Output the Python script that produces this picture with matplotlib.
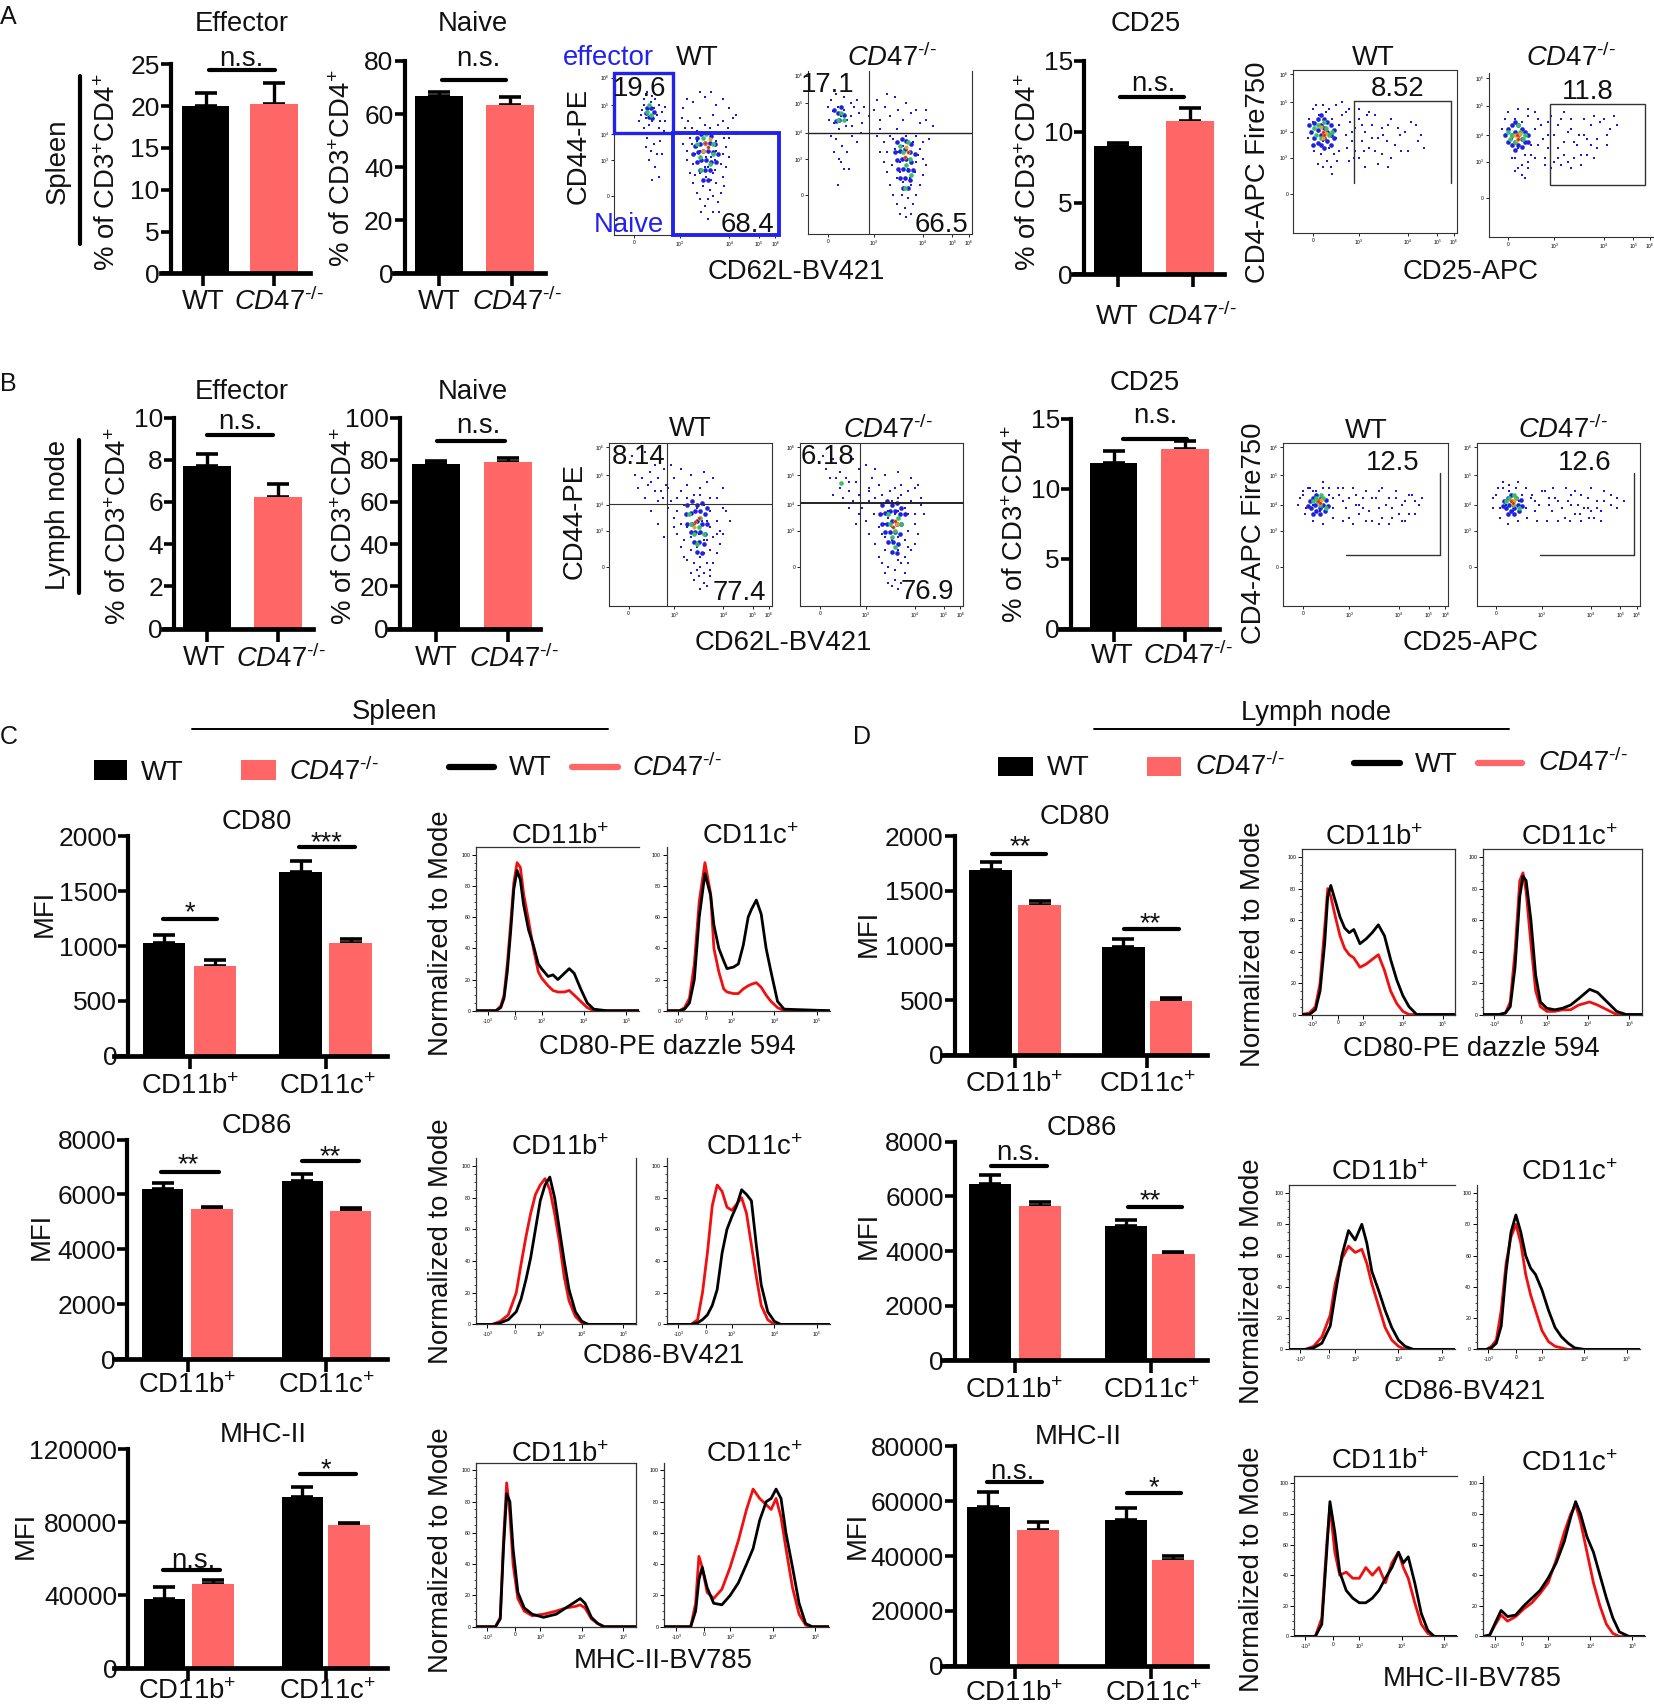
import matplotlib
matplotlib.use('Agg')
import matplotlib.pyplot as plt
from matplotlib.lines import Line2D
from matplotlib.patches import Rectangle

plt.rcParams['font.family'] = ['Liberation Sans', 'DejaVu Sans']
plt.rcParams['mathtext.fontset'] = 'custom'
plt.rcParams['mathtext.rm'] = 'Liberation Sans'
plt.rcParams['mathtext.it'] = 'Liberation Sans:italic'
plt.rcParams['mathtext.bf'] = 'Liberation Sans:bold'

KO = r'$\mathit{CD47}^{\text{-/-}}$'
PCT = r'% of CD3$^{+}$CD4$^{+}$'
BP = r'CD11b$^{+}$'
CP = r'CD11c$^{+}$'
GROUPS2 = ['WT', KO]
GROUPS4 = [BP, CP]

# ---- bar values: (WT, KO) and their upper error ----
A_eff_vals = [20.0, 20.3]; A_eff_err = [1.5, 2.4]
A_nai_vals = [66.8, 63.5]; A_nai_err = [1.4, 3.0]
A_cd25_vals = [9.0, 10.8]; A_cd25_err = [0.25, 0.85]
B_eff_vals = [7.7, 6.25]; B_eff_err = [0.55, 0.6]
B_nai_vals = [78.0, 79.0]; B_nai_err = [1.5, 1.6]
B_cd25_vals = [11.8, 12.8]; B_cd25_err = [0.9, 0.6]
C_cd80_vals = [1030, 820, 1670, 1030]; C_cd80_err = [70, 50, 100, 30]
C_cd86_vals = [6200, 5480, 6500, 5400]; C_cd86_err = [200, 80, 250, 120]
C_mhc_vals = [38000, 46000, 94000, 78500]; C_mhc_err = [6500, 2500, 5500, 1000]
D_cd80_vals = [1690, 1370, 990, 490]; D_cd80_err = [70, 40, 70, 30]
D_cd86_vals = [6450, 5650, 4900, 3900]; D_cd86_err = [350, 150, 250, 80]
D_mhc_vals = [58000, 49500, 53000, 38500]; D_mhc_err = [5500, 3000, 4500, 1500]

# ---- histogram curves: x in percent of panel width, y normalized to mode ----
H1x = [0,12,15,17,19,21,23,25,27,29,32,35,38,40,44,47,50,54,57,60,64,68,72,80,100]
H1k = [0,0,2,8,25,50,78,90,84,68,52,42,30,27,22,23,20,24,27,24,14,5,1,0,0]
H1r = [0,0,3,10,30,55,82,95,92,75,58,40,25,21,16,13,12,12,13,10,6,2,0,0,0]
H2x = [0,8,11,14,17,20,23.5,27,29,32,35,37,41,44,47,50,52,55,58,61,64,68,72,100]
H2k = [0,0,1,5,20,60,88,74,55,40,32,27,28,30,42,60,65,71,62,40,25,6,1,0]
H2r = [0,0,2,8,30,70,95,75,40,25,14,12,11,11,14,16,17,18,15,10,6,2,0,0]
H3x = [0,10,15,20,25,28,31,34,37,40,43,46,49,52,55,58,62,66,70,100]
H3k = [0,0,1,3,8,16,28,42,60,78,88,93,80,60,40,22,8,2,0,0]
H3r = [0,0,2,6,20,38,55,70,82,88,92,85,70,52,30,15,5,1,0,0]
H4x = [0,15,19,22,25,28,31,34,37,40,43,46,49,52,55,58,62,66,70,100]
H4k = [0,0,1,3,6,12,22,45,60,68,75,85,82,78,50,25,8,2,0,0]
H4r = [0,0,3,20,45,75,88,84,74,72,76,80,70,50,30,12,3,0,0,0]
H5x = [0,12,15,17,19,21,23,26,30,35,42,50,56,62,65,68,72,76,80,100]
H5k = [0,0,5,50,85,80,50,22,12,8,6,8,12,16,18,15,6,2,0,0]
H5r = [0,0,6,55,92,72,40,18,10,7,8,10,12,13,14,12,5,2,0,0]
H6x = [0,16,19,21,23,26,30,35,40,45,50,54,58,62,65,68,71,74,78,82,86,90,100]
H6k = [0,0,10,30,38,25,15,14,20,28,40,50,68,80,82,88,82,60,38,15,2,0,0]
H6r = [0,0,15,45,38,22,18,24,38,55,75,88,82,78,75,82,70,50,25,8,1,0,0]
H7x = [0,5,9,12,15,17,19,22,25,28,31,34,38,42,46,50,54,58,62,66,70,75,100]
H7k = [0,0,3,15,45,75,82,72,62,55,52,54,45,48,52,57,50,35,22,12,5,0,0]
H7r = [0,1,5,20,55,80,75,62,50,42,38,36,30,32,35,38,28,15,7,2,0,0,0]
H8x = [0,10,14,17,20,23,25,27,30,33,36,40,45,50,55,60,67,72,78,84,90,100]
H8k = [0,0,1,5,30,75,88,85,60,25,8,4,3,4,6,10,16,14,8,2,0,0]
H8r = [0,0,1,8,40,85,90,78,45,15,5,2,2,3,3,6,8,6,3,0,0,0]
H9x = [0,10,15,20,25,28,32,36,40,44,47,50,54,58,62,66,70,75,80,100]
H9k = [0,0,1,4,15,35,60,76,70,80,68,50,38,25,14,6,2,0,0,0]
H9r = [0,0,2,8,22,42,58,66,62,64,55,42,28,14,6,2,0,0,0,0]
H10x = [0,6,9,12,15,18,21,24,27,30,33,36,40,44,48,52,56,60,66,100]
H10k = [0,0,1,4,15,50,75,86,75,60,52,48,38,25,14,8,4,1,0,0]
H10r = [0,0,2,6,25,55,72,80,68,48,35,25,12,5,2,1,0,0,0,0]
H11x = [0,13,17,20,22,25,28,32,36,40,44,48,52,56,60,64,67,70,74,78,82,86,100]
H11k = [0,0,8,55,88,68,42,30,25,22,22,25,30,38,45,55,48,52,35,15,4,0,0]
H11r = [0,0,12,60,85,55,40,42,38,38,45,40,45,35,48,55,45,38,22,8,2,0,0]
H12x = [0,4,7,11,15,20,25,30,35,40,45,50,54,57,60,64,68,72,76,80,84,90,100]
H12k = [0,1,8,17,13,14,20,25,30,38,48,62,78,88,80,65,55,40,25,12,3,0,0]
H12r = [0,1,7,14,10,13,18,22,28,35,50,68,80,86,75,55,35,20,8,2,0,0,0]

# ---- flow cytometry events, percent of panel (x, y) ----
F1_blue = [(18,80),(20,76),(22,82),(24,78),(19,72),(23,70),(26,74),(17,77),(21,68),(25,84),(28,70),(20,60),(24,62),(22,52),(26,50),(28,58),(25,42),(21,46),(30,64),(31,79),
 (42,78),(48,82),(55,85),(62,80),(70,78),(45,70),(52,72),(60,74),(66,70),(72,72),(40,62),(46,60),(50,64),(58,66),(64,62),(70,60),(44,52),(50,54),(56,56),(62,52),(68,54),(48,44),(53,46),(59,48),(65,44),(52,38),(56,36),(61,40),(66,36),(54,30),(58,28),(62,32),(57,22),(60,24),(55,18),(63,20),
 (47,66),(51,60),(55,68),(59,60),(63,68),(49,50),(53,56),(57,42),(61,46),(49,37),(55,42),(59,34),(64,50),(67,60),(52,52),(60,38),(56,48),(50,58),(62,58),
 (16,74),(18,84),(20,88),(23,86),(27,80),(29,76),(15,70),(18,66),(27,66),(31,70),(24,56),(29,50),(19,54),(27,36),(23,34),(44,84),(52,88),(59,88),(66,84),(74,74),(41,72),(43,66),(69,66),(74,62),(42,56),(47,56),(70,48),(66,50),(44,46),(46,38),(68,42),(48,32),(50,26),(67,30),(52,22),(65,26),(53,14),(60,14),(64,14),(57,10)]
F1_core = [(50,60),(53,62),(56,63),(59,61),(49,55),(52,56),(55,57),(58,57),(61,56),(48,50),(51,51),(54,52),(57,52),(60,51),(63,50),(50,45),(53,46),(56,46),(59,45),(62,45),(52,40),(55,40),(58,40),(54,34),(57,34),(20,78),(22,78),(24,76),(21,73),(23,72),(19,75)]
F1_green = [(20,76),(22,74),(21,80),(50,56),(54,60),(60,56),(52,48),(58,44),(56,62),(60,50),(53,40)]
F1_warm = [(55,57),(57,54),(58,59),(54,52)]
F2_blue = [(15,75),(18,78),(20,72),(22,76),(24,70),(16,68),(19,64),(23,66),(26,72),(28,78),(31,74),(33,68),(17,58),(21,54),(24,50),(19,46),(27,60),(30,56),(22,40),
 (40,76),(44,70),(47,78),(50,72),(55,76),(58,70),(63,74),(68,68),(72,70),(42,60),(46,56),(50,60),(54,64),(60,60),(66,60),(70,56),(48,50),(53,52),(58,54),(62,50),(67,48),(51,42),(56,44),(61,40),(65,38),(54,34),(58,32),(63,30),(57,24),(61,22),(59,16),(55,50),(60,46),(64,56),(52,58),(56,38),(62,34),(66,44),(68,52),
 (12,78),(14,82),(17,86),(22,84),(26,80),(30,82),(34,78),(37,72),(13,70),(27,66),(32,62),(14,60),(16,50),(20,44),(25,40),(18,30),(42,82),(48,86),(53,84),(60,80),(66,76),(72,76),(76,66),(74,58),(44,50),(46,44),(48,38),(72,42),(70,36),(50,30),(68,30),(52,24),(66,24),(54,18),(64,18),(56,12),(60,10),(63,12),(44,64),(70,46)]
F2_core = [(54,56),(57,58),(60,57),(63,55),(53,50),(56,51),(59,52),(62,50),(65,49),(54,45),(57,46),(60,46),(63,44),(55,40),(58,40),(61,39),(64,39),(56,34),(59,34),(62,33),(58,28),(61,28),(16,76),(18,74),(20,78),(19,70),(22,73),(17,69)]
F2_green = [(20,74),(22,70),(18,70),(58,50),(62,46),(60,42),(56,54),(63,36),(59,28),(61,56)]
F2_warm = [(59,47),(61,50),(60,53)]
F3_blue = [(20,88),(25,82),(30,78),(18,72),(24,74),(28,70),(33,66),(22,66),(35,74),(40,78),(44,70),(48,74),(52,68),(56,72),(60,76),(38,64),(42,58),(46,62),(50,56),(54,60),(58,62),(62,58),(66,66),(44,50),(48,48),(53,50),(57,52),(62,48),(66,52),(70,60),(46,40),(50,42),(55,44),(60,40),(64,42),(68,46),(50,34),(54,36),(58,32),(62,34),(52,26),(56,24),(60,26),(55,18),(58,14),(62,18),(56,30),(60,52),(52,44),(58,40),(50,50),(56,54),(40,48),(30,50),(26,58),(34,42),
 (14,92),(22,94),(28,86),(34,84),(16,80),(26,76),(32,70),(38,86),(44,84),(50,80),(58,82),(64,78),(70,72),(36,60),(40,54),(42,44),(72,58),(74,52),(70,44),(68,38),(44,36),(46,30),(66,32),(48,28),(64,26),(50,20),(62,22),(52,16),(60,12),(56,10),(48,66),(56,68),(62,66),(30,64),(20,78),(36,72),(42,66),(66,44),(54,22),(58,20)]
F3_core = [(48,62),(51,64),(54,62),(57,63),(60,60),(47,56),(50,57),(53,58),(56,58),(59,56),(48,50),(51,50),(54,52),(57,50),(60,50),(50,45),(53,45),(56,45),(59,44),(52,39),(55,39),(58,38),(54,33),(57,32)]
F3_green = [(50,50),(55,48),(52,44),(56,54),(58,44),(54,38),(49,56)]
F3_warm = [(53,51),(55,54),(52,48)]
F4_blue = [(18,78),(24,82),(30,76),(36,84),(42,72),(48,74),(55,70),(62,74),(26,66),(30,70),(36,68),(42,64),(46,66),(50,62),(56,64),(60,66),(66,70),(70,72),(45,56),(50,56),(54,58),(60,58),(64,60),(70,56),(74,62),(48,48),(52,50),(56,48),(60,50),(66,46),(70,50),(52,42),(56,40),(60,42),(64,40),(52,34),(56,32),(60,34),(64,30),(54,24),(58,22),(62,26),(58,16),(62,14),(60,28),(54,54),(58,56),(62,44),(50,44),(66,56),(24,72),(30,60),(34,50),(20,68),
 (14,92),(20,90),(26,88),(32,90),(40,86),(46,84),(52,80),(60,82),(68,78),(72,74),(16,84),(22,78),(34,76),(38,60),(40,52),(42,44),(74,66),(76,56),(72,44),(70,38),(46,38),(48,30),(68,34),(50,26),(66,26),(52,20),(64,20),(54,14),(60,10),(56,12),(28,78),(36,56),(44,78),(50,68),(58,72),(62,68),(68,64),(32,64),(42,70),(66,36)]
F4_core = [(50,62),(53,64),(56,62),(59,63),(62,60),(49,56),(52,57),(55,58),(58,58),(61,56),(64,56),(50,50),(53,50),(56,52),(59,50),(62,50),(52,45),(55,45),(58,45),(61,44),(54,39),(57,39),(60,38),(56,33),(59,32)]
F4_green = [(55,50),(58,46),(60,54),(56,42),(62,50),(58,36),(54,56),(25,75)]
F4_warm = [(58,52),(57,48),(59,50)]
F5_blue = [(12,68),(14,60),(16,72),(18,56),(20,74),(22,52),(24,70),(26,58),(28,66),(11,62),(17,48),(21,44),(25,48),(30,72),(32,60),(35,68),(38,64),(40,70),(44,62),(48,66),(52,58),(36,56),(42,56),(46,52),(50,50),(55,60),(58,66),(62,54),(65,60),(70,50),(78,60),(75,66),(32,74),(45,72),(54,48),(60,46),(28,50),(38,50),(40,46),(33,52),(23,40),
 (10,70),(12,76),(14,78),(18,78),(22,76),(26,78),(30,80),(34,76),(36,62),(40,76),(43,50),(46,74),(50,72),(54,64),(57,56),(60,70),(64,64),(68,62),(72,68),(76,56),(80,52),(27,44),(24,36),(18,40),(15,42),(13,50),(9,58),(34,44),(48,58),(42,66),(37,46),(52,42),(58,40),(66,50),(44,40)]
F5_core = [(11,62),(13,67),(13,58),(15,70),(15,63),(15,55),(17,72),(17,66),(17,60),(17,54),(19,70),(19,64),(19,58),(19,52),(21,68),(21,62),(21,56),(23,66),(23,60),(23,54),(25,63),(25,58),(10,66),(12,54)]
F5_green = [(15,66),(17,58),(20,64),(22,60),(14,60),(19,68),(24,62),(13,64)]
F5_warm = [(18,62),(19,60),(20,61),(18,58),(17,65)]
F6_blue = [(12,66),(14,60),(16,72),(18,54),(20,70),(22,50),(24,74),(26,56),(28,66),(10,62),(16,48),(20,44),(24,46),(30,72),(33,60),(36,70),(40,62),(44,72),(48,64),(52,58),(36,54),(42,54),(46,50),(50,72),(55,62),(58,72),(62,56),(66,60),(70,72),(74,66),(78,68),(34,48),(44,44),(56,50),(60,50),(28,48),(40,46),(50,42),(22,36),(16,40),(38,74),
 (8,66),(10,72),(12,76),(18,78),(24,78),(28,76),(32,68),(36,62),(42,68),(46,76),(50,66),(54,56),(58,62),(62,68),(64,74),(68,70),(72,62),(76,74),(30,56),(34,44),(38,42),(46,58),(52,48),(56,44),(60,60),(66,54),(14,48),(18,42),(20,38),(24,42),(26,50),(42,48),(48,46),(64,48),(72,56)]
F6_core = [(10,62),(12,66),(12,58),(14,68),(14,62),(14,56),(16,70),(16,64),(16,58),(16,53),(18,68),(18,62),(18,56),(20,66),(20,60),(20,55),(22,64),(22,58),(24,62),(24,58)]
F6_green = [(14,62),(16,58),(19,64),(21,60),(13,60),(18,68),(22,62),(12,64)]
F6_warm = [(17,62),(18,60),(19,63),(17,59),(16,62)]
F7_blue = [(12,68),(14,60),(16,72),(18,62),(20,70),(22,58),(24,72),(26,64),(28,68),(10,66),(30,60),(34,68),(38,60),(42,72),(48,66),(52,58),(58,70),(62,62),(66,60),(70,56),(74,64),(78,68),(82,62),(54,52),(60,54),(46,56),(64,50),(72,52),(68,66),(36,72),(44,62),(56,66),(76,56),(40,54),
 (9,62),(12,70),(15,72),(18,70),(24,76),(28,72),(30,66),(33,72),(36,64),(40,66),(44,68),(46,62),(50,70),(54,66),(58,60),(60,72),(64,66),(68,70),(72,62),(76,68),(80,64),(84,66),(13,56),(18,52),(24,50),(30,54),(36,52),(42,50),(50,52),(58,50),(66,54),(74,52),(80,56),(48,60)]
F7_core = [(16,64),(17,60),(18,66),(19,62),(20,68),(20,58),(21,64),(22,60),(23,66),(24,62),(25,58),(26,65),(27,61),(22,56),(18,56),(15,61)]
F7_green = [(20,66),(22,62),(24,66),(26,60),(18,64),(23,68)]
F7_warm = [(21,64),(22,63),(23,65)]
F8_blue = [(12,68),(14,60),(16,72),(18,62),(20,70),(22,58),(24,72),(26,64),(28,68),(10,66),(30,60),(34,68),(38,62),(42,70),(48,66),(52,60),(58,68),(62,62),(66,60),(70,58),(74,64),(78,70),(82,62),(54,54),(60,56),(46,58),(64,52),(72,54),(68,66),(36,58),(44,62),(56,64),(76,58),(86,66),
 (10,60),(13,72),(16,76),(20,74),(25,76),(30,72),(33,66),(36,64),(40,70),(44,66),(47,72),(50,64),(55,72),(58,62),(60,70),(64,68),(68,60),(70,72),(74,60),(78,64),(82,68),(86,60),(14,54),(19,50),(25,52),(31,54),(37,52),(43,52),(50,52),(57,52),(63,56),(69,54),(76,52),(90,64)]
F8_core = [(17,64),(18,60),(19,66),(20,62),(21,68),(21,58),(22,64),(23,60),(24,66),(25,62),(26,58),(27,65),(28,61),(23,56),(19,56),(16,61)]
F8_green = [(20,66),(22,62),(24,66),(26,60),(18,64),(23,68)]
F8_warm = [(21,64),(22,63),(23,65)]

# ---- layout helpers, coordinates measured on a 1521 x 1568 grid ----
W, H = 1521.0, 1568.0
fig = plt.figure(figsize=(16.54, 17.05), dpi=100, facecolor='white')
RED = '#FF6666'
FS = 19.8
TICK_FS = 19


def box(l, t, r, b, **kw):
    return fig.add_axes([l / W, 1 - b / H, (r - l) / W, (b - t) / H], **kw)


def T(x, y, s, fs=FS, color='#111111', rot=0, **kw):
    dx, dy = (1.5, 0) if rot else (0, 1.5)
    fig.text((x + dx) / W, 1 - (y + dy) / H, s, fontsize=fs, color=color, rotation=rot,
             ha='center', va='center', rotation_mode='anchor', zorder=5, **kw)


def L(x0, y0, x1, y1, lw=3.0, color='black'):
    fig.add_artist(Line2D([x0 / W, x1 / W], [1 - y0 / H, 1 - y1 / H], color=color, lw=lw,
                          solid_capstyle='round', transform=fig.transFigure))


def R(x0, y0, x1, y1, color, lw=0.0, fill=True):
    fig.add_artist(Rectangle((x0 / W, 1 - y1 / H), (x1 - x0) / W, (y1 - y0) / H, transform=fig.transFigure,
                             facecolor=color if fill else 'none', edgecolor=color, lw=lw))


def bars(spine, xa, xb, top, bottom, ymax, ticks, centers, vals, errs, ticklabels, tickx, width=44):
    ax = box(xa, top, xb, bottom)
    ax.patch.set_alpha(0)
    ax.set_xlim(xa, xb)
    ax.set_ylim(0, ymax)
    cols = ['black', RED] * (len(vals) // 2)
    ax.bar(centers, vals, width=width, color=cols, zorder=2)
    ax.errorbar(centers, vals, yerr=[[0] * len(vals), errs], fmt='none', ecolor='black',
                elinewidth=2.4, capsize=8, capthick=2.6, zorder=1, clip_on=False)
    for s in ('top', 'right'):
        ax.spines[s].set_visible(False)
    ax.spines['left'].set_position(('data', spine))
    ax.spines['left'].set_linewidth(3)
    ax.spines['bottom'].set_linewidth(3.4)
    ax.set_yticks(ticks)
    ax.set_yticklabels([str(t) for t in ticks], fontsize=TICK_FS, color='#111111')
    ax.tick_params(axis='y', width=2.6, length=7, pad=1)
    ax.set_xticks(tickx)
    ax.set_xticklabels([])
    ax.tick_params(axis='x', width=2.6, length=9)
    return ax


def flow(l, t, r, b, blue, core, green, warm, top=False, right=True, xt=(12, 40, 70, 88, 98), yt=(24, 46, 62, 80, 97)):
    ax = box(l, t, r, b)
    ax.set_xlim(0, 100)
    ax.set_ylim(0, 100)
    ax.scatter(*zip(*blue), s=2.4, color='#1a1ae0', marker='s', lw=0)
    ax.scatter(*zip(*core), s=11, color='#1e22dc', marker='o', lw=0)
    ax.scatter(*zip(*green), s=11, color='#33c06a', marker='o', lw=0)
    ax.scatter(*zip(*warm), s=9, color='#f0a020', marker='o', lw=0)
    ax.scatter(*zip(*warm[:2]), s=4, color='#e02020', marker='o', lw=0)
    for s, sp in ax.spines.items():
        sp.set_linewidth(0.8)
        sp.set_color('#333333')
    ax.spines['top'].set_visible(top)
    ax.spines['right'].set_visible(right)
    ax.set_xticks(list(xt))
    ax.set_xticklabels(['0', '10$^3$', '10$^4$', '10$^5$', '10$^6$'][:len(xt)], fontsize=3.5)
    ax.set_yticks(list(yt))
    ax.set_yticklabels(['0', '10$^3$', '10$^4$', '10$^5$', '10$^6$'][:len(yt)], fontsize=3.5)
    ax.tick_params(width=0.6, length=2.5, pad=1)
    return ax


def hist(l, t, r, b, x, k, rr, top=False, right=False):
    ax = box(l, t, r, b)
    ax.set_xlim(0, 100)
    ax.set_ylim(0, 105)
    ax.plot(x, k, color='black', lw=2.0, zorder=3)
    ax.plot(x, rr, color='#F01010', lw=2.0, zorder=2)
    ax.spines['top'].set_visible(top)
    ax.spines['right'].set_visible(right)
    for sp in ax.spines.values():
        sp.set_linewidth(0.9)
        sp.set_color('#333333')
    ax.set_yticks([0, 20, 40, 60, 80, 100])
    ax.set_yticklabels(['0', '20', '40', '60', '80', '100'], fontsize=3.8)
    ax.set_yticks(list(range(0, 101, 5)), minor=True)
    ax.set_xticks([7, 24, 40, 66, 92])
    ax.set_xticklabels(['-10$^3$', '0', '10$^3$', '10$^4$', '10$^5$'], fontsize=3.5)
    ax.tick_params(width=0.7, length=3, pad=1)
    ax.tick_params(which='minor', width=0.5, length=1.5)
    return ax


def sig(x0, x1, y, s, tx, ty, fs=FS):
    L(x0, y, x1, y)
    T(tx, ty, s, fs=fs)


# ---- panel letters ----
for x, y, s in [(8, 14, 'A'), (8, 352, 'B'), (8, 676, 'C'), (793, 676, 'D')]:
    T(x, y, s, fs=18)

# ---- row A ----
bars(157, 148, 285, 59, 251.5, 25, [0, 5, 10, 15, 20, 25], [189, 252], A_eff_vals, A_eff_err, GROUPS2, [187, 252])
bars(372, 362, 501, 56, 251.5, 80, [0, 20, 40, 60, 80], [404, 469], A_nai_vals, A_nai_err, GROUPS2, [404, 471])
bars(997, 987, 1126, 56, 252, 15, [0, 5, 10, 15], [1028, 1094], A_cd25_vals, A_cd25_err, GROUPS2, [1028, 1097])
for x, y, s in [(222, 21, 'Effector'), (435, 21, 'Naive'), (1054, 21, 'CD25'),
                (187, 276, 'WT'), (257, 276, KO), (404, 276, 'WT'), (475, 276, KO),
                (1027, 290, 'WT'), (1096, 290, KO), (641, 52, 'WT'), (820, 52, KO),
                (1263, 52, 'WT'), (1445, 52, KO), (732, 249, 'CD62L-BV421'), (1352, 249, 'CD25-APC'),
                (588, 80, '19.6'), (687, 205, '68.4'), (761, 77, '17.1'), (866, 205, '66.5'),
                (1285, 80, '8.52'), (1460, 83, '11.8')]:
    T(x, y, s)
T(559, 52, 'effector', color='#2222EE')
T(578, 205, 'Naive', color='#2222EE')
T(531, 134, 'CD44-PE', rot=90)
T(1155, 158, 'CD4-APC Fire750', rot=90)
T(52, 148, 'Spleen', rot=90)
L(74, 70, 74, 224)
T(98, 158, PCT, rot=90)
T(314, 155, PCT, rot=90)
T(945, 158, PCT, rot=90)
sig(192, 253, 64, 'n.s.', 222, 53)
sig(406, 465, 74, 'n.s.', 440, 53)
sig(1030, 1089, 89, 'n.s.', 1061, 76)

flow(565, 67, 716, 216, F1_blue, F1_core, F1_green, F1_warm, top=False, right=False)
R(565, 67, 619, 122, '#2222EE', lw=2.4, fill=False)
R(619, 122, 716, 216, '#2222EE', lw=2.8, fill=False)
a = flow(743, 65, 894, 215, F2_blue, F2_core, F2_green, F2_warm)
a.axvline(37, color='#333333', lw=0.8); a.axhline(62, color='#222222', lw=1.0)
flow(1189, 64, 1340, 214, F5_blue, F5_core, F5_green, F5_warm, top=True)
L(1245, 93, 1334, 93, lw=1.0, color='#333333'); L(1245, 93, 1245, 168, lw=1.0, color='#333333'); L(1334, 93, 1334, 168, lw=1.0, color='#333333')
flow(1369, 67, 1520, 218, F6_blue, F6_core, F6_green, F6_warm, right=False)
R(1425, 96, 1513, 170, '#333333', lw=1.0, fill=False)

# ---- row B ----
bars(160, 150, 288, 384, 578, 10, [0, 2, 4, 6, 8, 10], [190, 256], B_eff_vals, B_eff_err, GROUPS2, [190, 256])
bars(368, 358, 497, 384, 578, 100, [0, 20, 40, 60, 80, 100], [401, 467], B_nai_vals, B_nai_err, GROUPS2, [401, 467])
bars(985, 975, 1121, 385, 578, 15, [0, 5, 10, 15], [1024, 1090], B_cd25_vals, B_cd25_err, GROUPS2, [1024, 1090])
for x, y, s in [(222, 359, 'Effector'), (435, 359, 'Naive'), (1053, 351, 'CD25'),
                (188, 604, 'WT'), (258, 604, KO), (401, 604, 'WT'), (473, 604, KO),
                (1023, 602, 'WT'), (1092, 602, KO), (635, 393, 'WT'), (817, 394, KO),
                (1256, 395, 'WT'), (1437, 394, KO), (720, 590, 'CD62L-BV421'), (1352, 590, 'CD25-APC'),
                (587, 419, '8.14'), (680, 544, '77.4'), (761, 419, '6.18'), (853, 543, '76.9'),
                (1281, 424, '12.5'), (1457, 424, '12.6')]:
    T(x, y, s)
T(527, 479, 'CD44-PE', rot=90)
T(1152, 490, 'CD4-APC Fire750', rot=90)
T(52, 474, 'Lymph node', rot=90)
L(73, 405, 73, 545)
T(108, 484, PCT, rot=90)
T(316, 484, PCT, rot=90)
T(933, 482, PCT, rot=90)
sig(190, 251, 400, 'n.s.', 221, 387)
sig(402, 464, 406, 'n.s.', 440, 390)
sig(1033, 1092, 404, 'n.s.', 1062, 381)
a = flow(560, 407, 710, 557, F3_blue, F3_core, F3_green, F3_warm, top=True)
a.axvline(35.5, color='#333333', lw=0.8); a.axhline(62.5, color='#333333', lw=0.8)
a = flow(736, 407, 886, 557, F4_blue, F4_core, F4_green, F4_warm, top=True)
a.axvline(36.5, color='#333333', lw=0.8); a.axhline(63, color='#222222', lw=1.4)
flow(1180, 407, 1332, 557, F7_blue, F7_core, F7_green, F7_warm, top=True)
L(1238, 510, 1324, 510, lw=1.0, color='#333333'); L(1324, 435, 1324, 510, lw=1.0, color='#333333')
flow(1358, 407, 1508, 557, F8_blue, F8_core, F8_green, F8_warm, top=True)
L(1416, 510, 1503, 510, lw=1.0, color='#333333'); L(1503, 435, 1503, 510, lw=1.0, color='#333333')

# ---- headers and legends of C and D ----
T(363, 653, 'Spleen'); L(177, 670, 559, 670, lw=1.4)
T(1210, 654, 'Lymph node'); L(1006, 670, 1388, 670, lw=1.4)
R(86, 699, 117, 717, 'black'); T(149, 709, 'WT')
R(222, 699, 254, 717, RED); T(307, 708, KO)
L(413, 705, 454, 705, lw=4.5); T(488, 705, 'WT')
L(526, 705, 568, 705, lw=4.5, color=RED); T(623, 705, KO)
R(918, 696, 950, 714, 'black'); T(982, 705, 'WT')
R(1055, 696, 1086, 714, RED); T(1140, 704, KO)
L(1245, 702, 1287, 702, lw=4.5); T(1321, 702, 'WT')
L(1359, 702, 1400, 702, lw=4.5, color=RED); T(1456, 700, KO)

# ---- bar panels of C ----
bars(118, 105, 356, 769, 971, 2000, [0, 500, 1000, 1500, 2000], [151, 197.5, 276.5, 322.5], C_cd80_vals, C_cd80_err, GROUPS4, [175, 300], width=39)
bars(117, 105, 356, 1048, 1250, 8000, [0, 2000, 4000, 6000, 8000], [149.5, 195, 278, 322.5], C_cd86_vals, C_cd86_err, GROUPS4, [173, 300], width=38)
bars(118, 105, 356, 1333, 1534, 120000, [0, 40000, 80000, 120000], [151, 196, 278, 321], C_mhc_vals, C_mhc_err, GROUPS4, [173, 300], width=38)
T(236, 754, 'CD80'); T(236, 1034, 'CD86'); T(242, 1318, 'MHC-II')
T(175, 998, BP); T(301, 998, CP); T(172, 1273, BP); T(300, 1273, CP); T(172, 1555, BP); T(301, 1555, CP)
T(40, 840, 'MFI', rot=90); T(37, 1137, 'MFI', rot=90); T(22, 1412, 'MFI', rot=90)
sig(150, 200, 845, '*', 175, 838)
sig(275, 326, 779, '***', 300, 774)
sig(148, 201, 1078, '**', 173, 1070)
sig(278, 330, 1068, '**', 304, 1063)
sig(150, 202, 1444, 'n.s.', 178, 1434)
sig(276, 327, 1356, '*', 300, 1351)

# ---- histograms of C ----
hist(438, 779, 588, 929.5, H1x, H1k, H1r, top=True)
hist(613, 779, 763, 929.5, H2x, H2k, H2r)
hist(438, 1065, 585, 1218, H3x, H3k, H3r, right=True)
hist(613, 1065, 763, 1218, H4x, H4k, H4r)
hist(438, 1345, 585, 1496, H5x, H5k, H5r, top=True, right=True)
hist(611, 1345, 762, 1496, H6x, H6k, H6r)
for x, y, s in [(515, 768, BP), (690, 768, CP), (515, 1054, BP), (694, 1054, CP), (515, 1337, BP), (694, 1337, CP),
                (614, 961, 'CD80-PE dazzle 594'), (610, 1246, 'CD86-BV421'), (610, 1526, 'MHC-II-BV785')]:
    T(x, y, s)
T(404, 858, 'Normalized to Mode', rot=90); T(404, 1141, 'Normalized to Mode', rot=90); T(404, 1426, 'Normalized to Mode', rot=90)

# ---- bar panels of D ----
bars(878, 866, 1110, 769, 970, 2000, [0, 500, 1000, 1500, 2000], [911, 956, 1033, 1077], D_cd80_vals, D_cd80_err, GROUPS4, [933, 1055], width=39)
bars(878, 866, 1110, 1050, 1251, 8000, [0, 2000, 4000, 6000, 8000], [910.5, 956.5, 1035.5, 1079], D_cd86_vals, D_cd86_err, GROUPS4, [933, 1058], width=39)
bars(878, 866, 1110, 1330, 1532, 80000, [0, 20000, 40000, 60000, 80000], [909, 954.5, 1035.5, 1078.5], D_mhc_vals, D_mhc_err, GROUPS4, [933, 1058], width=39)
T(988, 750, 'CD80'); T(995, 1036, 'CD86'); T(992, 1320, 'MHC-II')
T(933, 996, BP); T(1055, 996, CP); T(933, 1278, BP); T(1059, 1278, CP); T(933, 1556, BP); T(1061, 1556, CP)
T(797, 858, 'MFI', rot=90); T(797, 1136, 'MFI', rot=90); T(787, 1412, 'MFI', rot=90)
sig(912, 962, 785, '**', 938, 778)
sig(1034, 1084, 854, '**', 1058, 848)
sig(911, 963, 1072, 'n.s.', 936, 1059)
sig(1037, 1087, 1110, '**', 1058, 1103)
sig(908, 958, 1363, 'n.s.', 931, 1352)
sig(1036, 1086, 1373, '*', 1061, 1367)

# ---- histograms of D ----
hist(1197, 781, 1338, 933, H7x, H7k, H7r, top=True, right=True)
hist(1364, 781, 1510, 933, H8x, H8k, H8r, top=True, right=True)
hist(1185, 1090, 1338, 1241, H9x, H9k, H9r, top=True)
hist(1358, 1090, 1508, 1241, H10x, H10k, H10r)
hist(1190, 1357, 1340, 1505, H11x, H11k, H11r, top=True)
hist(1364, 1357, 1513, 1505, H12x, H12k, H12r)
for x, y, s in [(1264, 769, BP), (1443, 769, CP), (1269, 1077, BP), (1443, 1077, CP), (1269, 1343, BP), (1443, 1345, CP),
                (1353, 963, 'CD80-PE dazzle 594'), (1347, 1279, 'CD86-BV421'), (1354, 1543, 'MHC-II-BV785')]:
    T(x, y, s)
T(1151, 868, 'Normalized to Mode', rot=90); T(1150, 1178, 'Normalized to Mode', rot=90); T(1150, 1443, 'Normalized to Mode', rot=90)

fig.savefig('out.png', dpi=100)
